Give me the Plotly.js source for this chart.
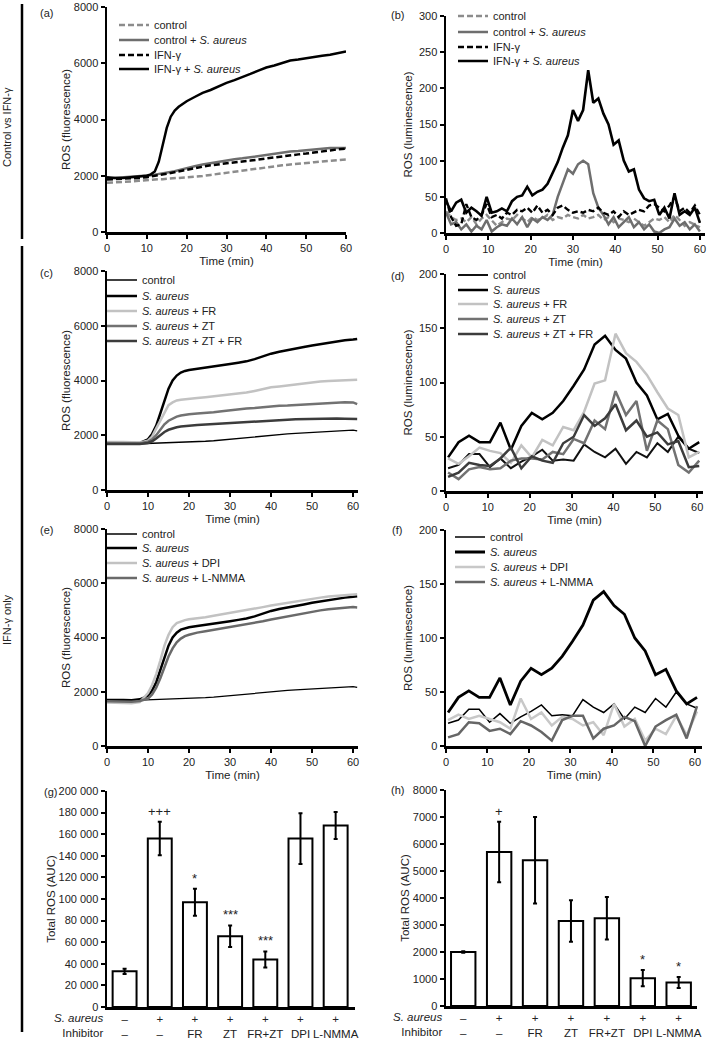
<!DOCTYPE html>
<html><head><meta charset="utf-8">
<script src="https://cdn.plot.ly/plotly-3.0.1.min.js"></script>
<style>html,body{margin:0;padding:0;background:#fff}#chart{width:709px;height:1040px}</style>
</head><body><div id="chart"></div>
<script>
// ---------- DATA ----------
// (a) fluorescence, control vs IFN-γ
const timeA = [0,2,4,6,8,10,11,12,13,14,15,16,17,18,19,20,22,24,26,28,30,32,34,36,38,40,42,44,46,48,50,52,54,56,58,60];
const aControl   = [1750,1760,1780,1800,1820,1850,1860,1870,1880,1880,1890,1900,1910,1920,1930,1940,1960,1990,2030,2070,2110,2150,2190,2220,2260,2310,2340,2370,2400,2420,2450,2480,2510,2540,2570,2580];
const aControlSa = [1900,1920,1930,1950,1970,2000,2020,2040,2060,2080,2100,2130,2160,2200,2240,2280,2340,2400,2450,2500,2550,2590,2620,2660,2700,2750,2790,2830,2860,2880,2900,2930,2960,2990,3000,2990];
const aIfn       = [1870,1880,1890,1900,1920,1950,1970,1990,2010,2040,2070,2100,2130,2160,2190,2220,2270,2320,2370,2410,2450,2480,2510,2540,2580,2610,2650,2680,2720,2760,2790,2820,2860,2900,2940,2960];
const aIfnSa     = [1950,1920,1920,1940,1960,2000,2050,2150,2500,3100,3700,4100,4320,4450,4560,4650,4800,4950,5050,5180,5300,5400,5500,5620,5740,5850,5920,6000,6100,6130,6180,6230,6270,6300,6350,6420];

// (b) luminescence, control vs IFN-γ
const timeB = [0,1.2,2.4,3.6,4.8,6,7.2,8.4,9.6,10.8,12,13.2,14.4,15.6,16.8,18,19.2,20.4,21.6,22.8,24,25.2,26.4,27.6,28.8,30,31.2,32.4,33.6,34.8,36,37.2,38.4,39.6,40.8,42,43.2,44.4,45.6,46.8,48,49.2,50.4,51.6,52.8,54,55.2,56.4,57.6,58.8,60];
const bControl   = [30,22,18,20,15,22,12,20,25,18,10,15,20,18,25,20,15,22,18,20,25,18,22,20,25,22,20,25,20,22,25,18,22,15,20,18,15,20,15,10,15,20,18,22,15,25,18,10,15,12,8];
const bControlSa = [28,12,15,5,12,2,10,5,18,2,8,12,10,20,12,22,8,20,15,22,18,25,50,68,88,82,95,100,95,55,35,25,12,22,8,15,22,8,15,5,12,2,0,5,8,20,10,15,5,12,2];
const bIfn       = [48,22,10,12,40,22,18,25,40,22,25,20,28,25,32,30,35,28,38,28,32,25,35,38,32,28,30,28,32,30,35,28,25,30,22,30,25,28,32,30,38,40,35,30,38,50,30,35,28,38,25];
const bIfnSa     = [44,30,42,46,28,35,30,24,50,28,30,34,30,44,50,52,64,52,57,60,68,82,98,118,135,170,155,170,225,180,186,165,150,122,128,100,85,88,60,48,44,46,25,35,20,55,25,30,25,35,14];

// (c)/(e) fluorescence, IFN-γ only
const timeCE = [0,2,4,6,8,10,11,12,13,14,15,16,17,18,19,20,22,24,26,28,30,32,34,36,38,40,42,44,46,48,50,52,54,56,58,60,61];
const fControl = [1700,1690,1690,1680,1690,1700,1700,1700,1700,1710,1710,1720,1720,1730,1730,1740,1760,1780,1800,1830,1860,1880,1910,1940,1980,2010,2030,2050,2070,2090,2110,2130,2150,2170,2190,2190,2160];
const fSa      = [1700,1710,1700,1690,1720,1850,2050,2350,2800,3300,3700,4000,4180,4290,4350,4380,4420,4460,4500,4560,4600,4650,4700,4780,4880,4980,5050,5100,5150,5220,5280,5330,5380,5430,5470,5500,5520];
const fSaFR    = [1750,1760,1750,1740,1740,1800,1950,2250,2550,2850,3100,3200,3270,3300,3320,3340,3360,3390,3420,3450,3480,3520,3560,3620,3680,3750,3780,3820,3860,3900,3930,3960,3980,4000,4020,4040,4030];
const fSaZT    = [1720,1720,1710,1700,1710,1760,1850,2000,2200,2400,2530,2620,2680,2720,2750,2770,2790,2810,2840,2880,2920,2950,2980,3000,3030,3060,3080,3090,3110,3130,3150,3170,3180,3200,3210,3200,3140];
const fSaZTFR  = [1680,1680,1670,1670,1680,1720,1780,1880,2000,2120,2200,2250,2290,2320,2340,2350,2370,2390,2410,2430,2450,2470,2490,2510,2530,2550,2560,2570,2580,2590,2600,2600,2610,2610,2600,2600,2590];
const fSaDPI   = [1600,1600,1590,1580,1620,1950,2250,2650,3150,3700,4100,4380,4530,4600,4640,4670,4700,4750,4800,4850,4900,4950,5000,5060,5120,5180,5230,5290,5340,5390,5430,5470,5510,5540,5570,5600,5590];
const fSaLNMMA = [1650,1640,1640,1630,1660,1750,1900,2150,2500,2900,3300,3600,3820,3960,4050,4100,4180,4230,4280,4330,4380,4430,4480,4530,4600,4660,4720,4780,4830,4880,4950,5000,5040,5080,5100,5120,5110];

// (d)/(f) luminescence, IFN-γ only
const timeDF = [0.5,3,5.5,8,10.5,13,15.5,18,20.5,23,25.5,28,30.5,33,35.5,38,40.5,43,45.5,48,50.5,53,55.5,58,60.5];
const lControl = [21,24,34,34,22,30,21,27,32,38,28,29,28,43,36,31,39,25,36,31,44,36,50,39,35];
const lSa      = [31,45,51,45,45,63,38,60,72,66,72,83,97,112,135,143,130,122,100,88,66,71,51,39,45];
const lSaFR    = [30,25,32,40,37,35,26,42,31,47,42,59,56,73,99,102,145,127,119,107,91,76,70,31,36];
const lSaZT    = [17,11,20,22,20,21,28,30,30,29,36,34,48,44,65,57,92,70,83,37,65,57,24,17,28];
const lSaZTFR  = [13,17,26,24,23,30,40,21,32,28,26,44,50,70,60,67,80,56,65,50,54,43,46,22,23];
const lSaDPI   = [24,29,25,28,25,22,16,44,25,31,19,27,25,19,22,10,39,18,25,5,16,11,28,10,32];
const lSaLNMMA = [8,11,22,21,14,16,11,23,19,13,5,24,28,28,7,16,19,27,23,0,18,24,29,7,37];

// (g)/(h) total ROS (AUC)
const barIndex   = [0,1,2,3,4,5,6];
const saRow      = ["–","+","+","+","+","+","+"];
const inhibitorRow = ["–","–","FR","ZT","FR+ZT","DPI","L-NMMA"];
const aucFluor   = [33000,156000,97000,65500,44000,156000,168000];
const errFluor   = [2500,15500,12500,10000,7500,23500,12500];
const sigFluor   = ["","+++","*","***","***","",""];
const aucLumi    = [2000,5700,5400,3150,3250,1030,870];
const errLumi    = [30,1120,1600,770,790,300,200];
const sigLumi    = ["","+","","","","*","*"];

const namesAB = ["control","control + <i>S. aureus</i>","IFN-γ","IFN-γ + <i>S. aureus</i>"];
const namesCD = ["control","<i>S. aureus</i>","<i>S. aureus</i> + FR","<i>S. aureus</i> + ZT","<i>S. aureus</i> + ZT + FR"];
const namesEF = ["control","<i>S. aureus</i>","<i>S. aureus</i> + DPI","<i>S. aureus</i> + L-NMMA"];

// ---------- LAYOUT HELPERS ----------
const W = 709, H = 1040;
const FONT = '"Liberation Sans", Arial, Helvetica, sans-serif';
const TXT = '#222';
const px = v => v / W;
const py = v => 1 - v / H;

let legendCount = 0;
const layout = {
  width: W, height: H,
  margin: {l:0, r:0, t:0, b:0, autoexpand:false},
  paper_bgcolor: '#fff', plot_bgcolor: 'rgba(0,0,0,0)',
  font: {family: FONT, size: 11, color: TXT},
  separators: '. ',
  showlegend: true,
  annotations: [], shapes: []
};
const traces = [];

function axisStyle(o) {
  return Object.assign({
    showline: true, linewidth: 2.5, linecolor: '#000',
    ticks: 'outside', ticklen: 4, tickwidth: 2, tickcolor: '#000',
    showgrid: false, zeroline: false, fixedrange: true,
    tickfont: {family: FONT, size: 11, color: TXT}
  }, o);
}

function addPanel(n, xpx, ypx, xrange, yrange, ydtick, ytitle, xtitle) {
  const xs = n === 1 ? 'xaxis' : 'xaxis' + n;
  const ys = n === 1 ? 'yaxis' : 'yaxis' + n;
  const xa = n === 1 ? 'x' : 'x' + n;
  const ya = n === 1 ? 'y' : 'y' + n;
  layout[xs] = axisStyle({domain: [px(xpx[0]), px(xpx[1])], range: xrange, anchor: ya,
    tickmode: 'linear', tick0: 0, dtick: 10,
    title: xtitle ? {text: xtitle, font: {size: 11.5, color: TXT}, standoff: 4} : undefined});
  layout[ys] = axisStyle({domain: [py(ypx[1]), py(ypx[0])], range: yrange,
    tickmode: 'linear', dtick: ydtick, tick0: 0, anchor: xa,
    title: {text: ytitle, font: {size: 11.5, color: TXT}}});
  return [xa, ya];
}

function addLegend(textX, rowY) {
  legendCount++;
  const id = legendCount === 1 ? 'legend' : 'legend' + legendCount;
  layout[id] = {x: px(textX - 40), y: py(rowY - 14.5), xanchor: 'left', yanchor: 'top',
    bgcolor: 'rgba(0,0,0,0)', borderwidth: 0, itemwidth: 30,
    font: {family: FONT, size: 11, color: TXT}, itemclick: false, itemdoubleclick: false};
  return id;
}

function addLines(axes, xs, ys, names, styles, textX, rows) {
  ys.forEach((y, i) => {
    traces.push({type: 'scatter', mode: 'lines', x: xs, y: y, name: names[i],
      xaxis: axes[0], yaxis: axes[1], legend: addLegend(textX, rows[i]),
      line: Object.assign({shape: 'linear'}, styles[i]), hoverinfo: 'skip'});
  });
}

// ---------- PANELS ----------
const axA = addPanel(1, [107,346], [7,232], [0,60], [0,8000], 2000, 'ROS (fluorescence)', 'Time (min)');
addLines(axA, timeA, [aControl, aControlSa, aIfn, aIfnSa], namesAB, [
  {color:'#8c8c8c', width:2.5, dash:'6px,3px'},
  {color:'#6e6e6e', width:2.5},
  {color:'#000', width:2.5, dash:'6px,3px'},
  {color:'#000', width:2.5}], 154, [25,40,55,69]);

const axB = addPanel(2, [446,705], [16,233], [0,61.2], [0,300], 50, 'ROS (luminescence)', 'Time (min)');
addLines(axB, timeB, [bControl, bControlSa, bIfn, bIfnSa], namesAB, [
  {color:'#8c8c8c', width:2.4, dash:'6px,3px'},
  {color:'#6e6e6e', width:2.5},
  {color:'#000', width:2.4, dash:'6px,3px'},
  {color:'#000', width:2.6}], 493, [16,32,47,61]);

const axC = addPanel(3, [107,358], [271,490], [0,61.2], [0,8000], 2000, 'ROS (fluorescence)', 'Time (min)');
addLines(axC, timeCE, [fControl, fSa, fSaFR, fSaZT, fSaZTFR], namesCD, [
  {color:'#000', width:1.3},
  {color:'#000', width:2.5},
  {color:'#c2c2c2', width:2.5},
  {color:'#727272', width:2.5},
  {color:'#3c3c3c', width:2.5}], 142, [280,296,311,326,341]);

const axD = addPanel(4, [446,703], [274,491], [0,61.4], [0,200], 50, 'ROS (luminescence)', 'Time (min)');
addLines(axD, timeDF, [lControl, lSa, lSaFR, lSaZT, lSaZTFR], namesCD, [
  {color:'#111', width:2.0},
  {color:'#000', width:2.5},
  {color:'#c2c2c2', width:2.5},
  {color:'#727272', width:2.5},
  {color:'#3c3c3c', width:2.5}], 493, [275,290,304,319,334]);

const axE = addPanel(5, [107,358], [529,746], [0,61.2], [0,8000], 2000, 'ROS (fluorescence)', 'Time (min)');
addLines(axE, timeCE, [fControl, fSa, fSaDPI, fSaLNMMA], namesEF, [
  {color:'#000', width:1.3},
  {color:'#000', width:2.5},
  {color:'#c2c2c2', width:2.5},
  {color:'#6a6a6a', width:2.5}], 142, [534,548,563,578]);

const axF = addPanel(6, [446,702], [530,746], [0,61.7], [0,200], 50, 'ROS (luminescence)', 'Time (min)');
addLines(axF, timeDF, [lControl, lSa, lSaDPI, lSaLNMMA], namesEF, [
  {color:'#000', width:1.5},
  {color:'#000', width:2.8},
  {color:'#c8c8c8', width:2.5},
  {color:'#666', width:2.5}], 490, [537,552,567,582]);

// bar panels
function addBars(n, xpx, ypx, xrange, yrange, ydtick, vals, errs, sigs, yfmt) {
  const axes = addPanel(n, xpx, ypx, xrange, yrange, ydtick, 'Total ROS (AUC)', null);
  const xs = 'xaxis' + n;
  layout[xs].ticks = '';
  layout[xs].tickmode = 'array';
  layout[xs].tickvals = barIndex;
  layout[xs].ticktext = barIndex.map(i => saRow[i] + '<br>' + inhibitorRow[i]);
  layout[xs].tickfont = {family: FONT, size: 11.5, color: TXT};
  if (yfmt) layout['yaxis' + n].tickformat = yfmt;
  traces.push({type: 'bar', x: barIndex, y: vals, xaxis: axes[0], yaxis: axes[1], width: 0.68,
    marker: {color: '#fff', line: {color: '#000', width: 2}}, showlegend: false, hoverinfo: 'skip',
    error_y: {type: 'data', array: errs, visible: true, color: '#000', thickness: 2, width: 2}});
  barIndex.forEach(i => {
    if (sigs[i]) layout.annotations.push({xref: axes[0], yref: axes[1], x: i, y: vals[i] + errs[i],
      text: sigs[i], showarrow: false, yanchor: 'bottom', yshift: 1, font: {size: 13, color: TXT}});
  });
  layout.annotations.push({xref: 'paper', yref: 'paper', x: px(xpx[0] - 2), y: py(ypx[1] + 3),
    xanchor: 'right', yanchor: 'top', align: 'right', showarrow: false,
    text: '<i>S. aureus</i><br>Inhibitor', font: {size: 11.5, color: TXT}});
}
addBars(7, [107,355], [791,1007], [-0.5,6.55], [0,200000], 20000, aucFluor, errFluor, sigFluor, ',d');
addBars(8, [446,697], [790,1006], [-0.48,6.51], [0,8000], 1000, aucLumi, errLumi, sigLumi, null);

// panel letters
[['(a)',47,13],['(b)',397,15],['(c)',47,273],['(d)',397,276],['(e)',47,530],['(f)',397,530],['(g)',50,792],['(h)',397,790]]
  .forEach(([t,x,y]) => layout.annotations.push({xref:'paper', yref:'paper', x:px(x), y:py(y),
    xanchor:'center', yanchor:'middle', text:t, showarrow:false, font:{size:11, color:TXT}}));

// left group labels and bars
layout.shapes.push({type:'line', xref:'paper', yref:'paper', x0:px(22), x1:px(22), y0:py(4), y1:py(239), line:{color:'#000', width:2.5}});
layout.shapes.push({type:'line', xref:'paper', yref:'paper', x0:px(22), x1:px(22), y0:py(246), y1:py(1032), line:{color:'#000', width:2.5}});
layout.annotations.push({xref:'paper', yref:'paper', x:px(7), y:py(127), textangle:-90, text:'Control vs IFN-γ',
  showarrow:false, xanchor:'center', yanchor:'middle', font:{size:11, color:TXT}});
layout.annotations.push({xref:'paper', yref:'paper', x:px(7), y:py(620), textangle:-90, text:'IFN-γ only',
  showarrow:false, xanchor:'center', yanchor:'middle', font:{size:11, color:TXT}});

Plotly.newPlot('chart', traces, layout, {staticPlot: true, displayModeBar: false});
</script></body></html>
